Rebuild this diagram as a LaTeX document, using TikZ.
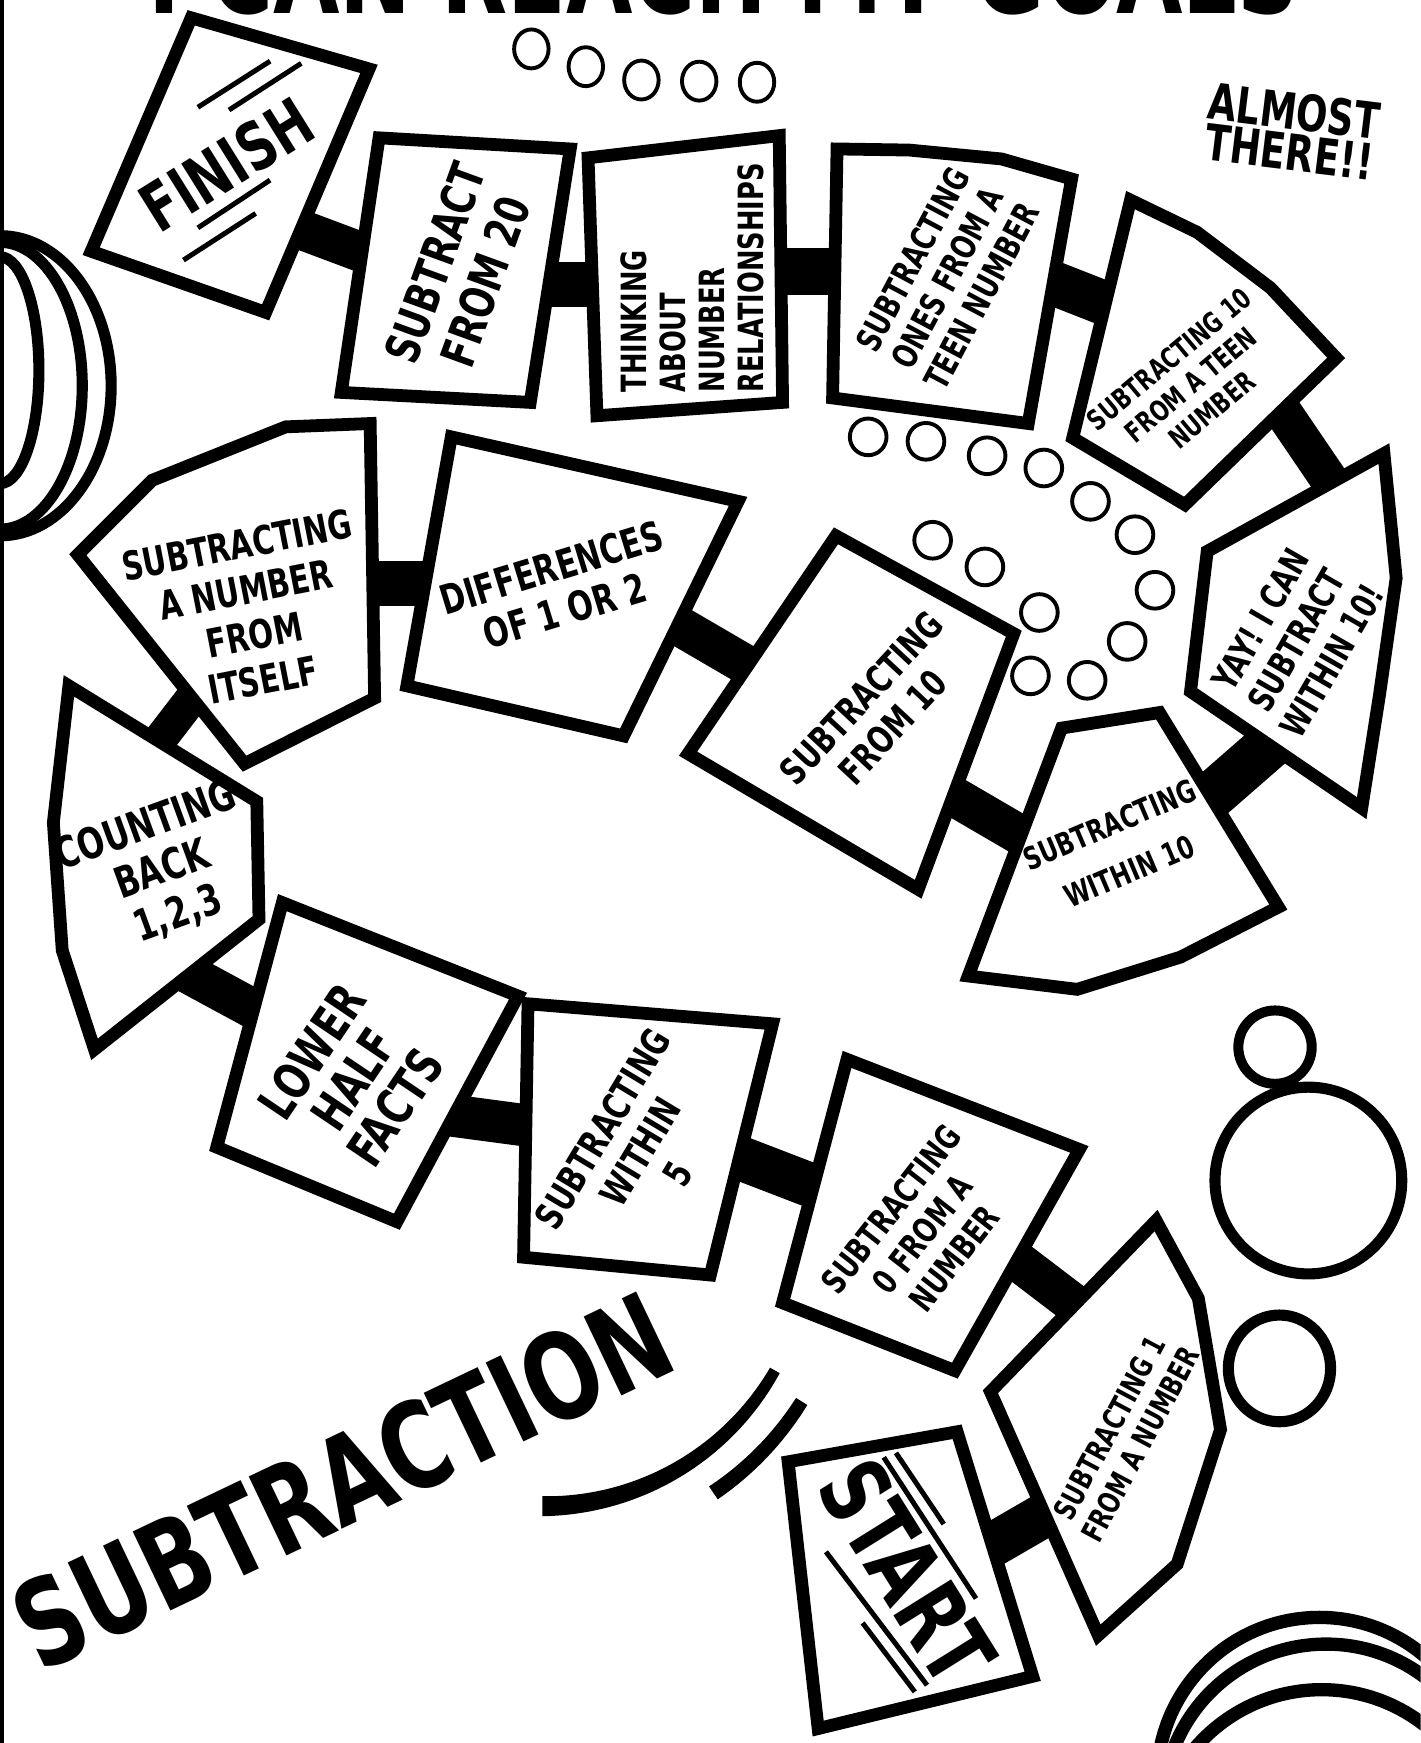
\documentclass[tikz,border=0pt]{standalone}
\usepackage{graphicx}
\usepackage{fontspec}
\newfontfamily\gf{DejaVu Sans}[FakeStretch=0.74]
\newcommand\tf[2]{\gf\bfseries\fontsize{#1pt}{#2pt}\selectfont}
\begin{document}
\begin{tikzpicture}[x=0.02cm,y=-0.02cm,
  box/.style={draw=black,fill=white,line width=0.23cm,line join=miter,miter limit=6},
  bar/.style={line width=#1,draw=black,line cap=butt},
  ring/.style={draw=black,line width=0.07cm},
  thick ring/.style={draw=black,line width=#1},
  deco/.style={draw=black,line width=0.09cm},
  lbl/.style={inner sep=0pt,align=center,text=black}]
\useasboundingbox (0,0) rectangle (1278,1568);
\clip (0,0) rectangle (1278,1568);
\fill[white] (0,0) rectangle (1278,1568);

% title (cut off at top)
\node[anchor=base,inner sep=0pt] (title) at (651,12) {\resizebox{20.7cm}{!}{\gf\bfseries I CAN REACH MY GOALS}};

% left border
\draw[line width=0.07cm] (2,0) -- (2,1568);

% left arcs
\draw[thick ring=0.2cm] (0,347) ellipse [x radius=100, y radius=135];
\draw[thick ring=0.2cm] (0,347) ellipse [x radius=74, y radius=129];
\draw[thick ring=0.2cm] (0,333) ellipse [x radius=35, y radius=102];

% bottom-right arcs
\draw[thick ring=0.24cm] (1187,1601) circle [radius=146];
\draw[thick ring=0.24cm] (1193,1626) circle [radius=147];
\draw[thick ring=0.24cm] (1189,1670) circle [radius=150];

% big circles right
\draw[thick ring=0.18cm] (1147,942) circle [radius=33];
\draw[thick ring=0.2cm] (1177,1062) circle [radius=84];
\draw[thick ring=0.2cm] (1151,1231) ellipse [x radius=46, y radius=48];

% small circles top
\foreach \p in {(478,44),(527,60),(577,72),(629,73),(681,74)}
  \draw[ring] \p ellipse [x radius=15.5, y radius=17.5];
% small circles middle
\foreach \p in {(781,393),(833,397),(888,410),(939,421),(981,451),(1021,481),(1039,531),(1014,577),(978,612),(927,608),(935,551),(886,510),(839,486)}
  \draw[ring] \p circle [radius=16.5];

% connector end points
\coordinate (finishA) at (240,195);   \coordinate (sub20A) at (360,240);
\coordinate (sub20B) at (450,256);    \coordinate (thinkA) at (560,256);
\coordinate (thinkB) at (680,244);    \coordinate (onesA) at (780,244);
\coordinate (onesB) at (910,240);     \coordinate (teenA) at (1030,287);
\coordinate (teenB) at (1130,335);    \coordinate (yayA) at (1215,460);
\coordinate (yayB) at (1170,646);     \coordinate (winTenA) at (1060,742);
\coordinate (winTenB) at (950,770);   \coordinate (fromTenA) at (830,700);
\coordinate (fromTenB) at (700,615);  \coordinate (diffA) at (580,545);
\coordinate (diffB) at (420,525);     \coordinate (selfA) at (310,525);
\coordinate (selfB) at (185,612);     \coordinate (countA) at (125,690);
\coordinate (countB) at (140,860);    \coordinate (lowerA) at (260,925);
\coordinate (lowerB) at (380,1000);   \coordinate (winFiveA) at (500,1016);
\coordinate (winFiveB) at (630,1028); \coordinate (zeroA) at (760,1078);
\coordinate (zeroB) at (890,1115);    \coordinate (oneA) at (995,1195);
\coordinate (oneB) at (965,1348);     \coordinate (startA) at (870,1403);

% connectors
\draw[bar=0.72cm] (finishA) -- (sub20A);
\draw[bar=0.80cm] (sub20B) -- (thinkA);
\draw[bar=0.84cm] (thinkB) -- (onesA);
\draw[bar=0.80cm] (onesB) -- (teenA);
\draw[bar=0.68cm] (teenB) -- (yayA);
\draw[bar=0.86cm] (yayB) -- (winTenA);
\draw[bar=0.72cm] (winTenB) -- (fromTenA);
\draw[bar=0.72cm] (fromTenB) -- (diffA);
\draw[bar=0.80cm] (diffB) -- (selfA);
\draw[bar=0.60cm] (selfB) -- (countA);
\draw[bar=0.72cm] (countB) -- (lowerA);
\draw[bar=0.76cm] (lowerB) -- (winFiveA);
\draw[bar=0.80cm] (winFiveB) -- (zeroA);
\draw[bar=0.72cm] (zeroB) -- (oneA);
\draw[bar=0.80cm] (oneB) -- (startA);

% spaces
\draw[box] (172,16) -- (332,62) -- (239,281) -- (82,226) -- cycle;
\draw[box] (341,124) -- (513,134) -- (477,362) -- (307,353) -- cycle;
\draw[box] (529,142) -- (701,122) -- (704,362) -- (537,374) -- cycle;
\draw[box] (753,134) -- (818,135) -- (901,143) -- (964,161) -- (925,381) -- (749,358) -- cycle;
\draw[box] (1017,180) -- (1077,209) -- (1143,259) -- (1202,322) -- (1066,454) -- (965,394) -- cycle;
\draw[box] (1245,408) -- (1256,520) -- (1241,625) -- (1225,727) -- (1071,622) -- (1086,496) -- cycle;
\draw[box] (955,655) -- (1043,641) -- (1150,816) -- (1062,861) -- (969,890) -- (871,878) -- cycle;
\draw[box] (752,482) -- (912,570) -- (826,800) -- (619,678) -- cycle;
\draw[box] (406,393) -- (664,451) -- (561,662) -- (366,617) -- cycle;
\draw[box] (257,384) -- (333,381) -- (337,628) -- (220,687) -- (70,499) -- (137,432) -- cycle;
\draw[box] (62,617) -- (231,721) -- (233,827) -- (85,944) -- (56,855) -- (48,740) -- cycle;
\draw[box] (254,812) -- (466,896) -- (357,1099) -- (195,1032) -- cycle;
\draw[box] (475,903) -- (695,921) -- (639,1147) -- (471,1131) -- cycle;
\draw[box] (762,953) -- (971,1034) -- (859,1233) -- (704,1172) -- cycle;
\draw[box] (1040,1098) -- (1078,1168) -- (1098,1286) -- (1059,1407) -- (988,1471) -- (891,1252) -- cycle;
\draw[box] (709,1315) -- (861,1288) -- (929,1508) -- (736,1555) -- cycle;

% finish / start decoration lines
\draw[deco] (178,96.5) -- (243,55);
\draw[deco] (206,99) -- (271,57);
\draw[deco] (178,205) -- (243,162);
\draw[deco] (165,234) -- (230,192);
\draw[deco] (806,1307) -- (849,1371);
\draw[deco] (795,1311) -- (878,1438);
\draw[deco] (743,1396) -- (834,1516);
\draw[deco] (776,1460) -- (823,1522);

% labels
\node[lbl,rotate=32,font={\tf{34}{36}}] (tfinish) at (204,148) {FINISH};
\node[lbl,rotate=70,font={\tf{24.2}{27.3}}] (tsub20) at (414,245) {SUBTRACT\\FROM 20};
\node[lbl,rotate=90,align=left,font={\tf{17.8}{19.9}}] (tthink) at (623,250) {THINKING\\ABOUT\\NUMBER\\RELATIONSHIPS};
\node[lbl,rotate=62,font={\tf{17.5}{20}}] (tones) at (852,250) {SUBTRACTING\\ONES FROM A\\TEEN NUMBER};
\node[lbl,rotate=40,font={\tf{14.5}{17}}] (tteen) at (1071,346) {SUBTRACTING 10\\FROM A TEEN\\NUMBER};
\node[lbl,rotate=60,font={\tf{18.3}{21}}] (tyay) at (1166,576) {YAY! I CAN\\SUBTRACT\\WITHIN 10!};
\node[lbl,rotate=23,font={\tf{16}{26}}] (twinten) at (1007,763) {SUBTRACTING\\WITHIN 10};
\node[lbl,rotate=47,font={\tf{19}{22}}] (tfromten) at (789,641) {SUBTRACTING\\FROM 10};
\node[lbl,rotate=17,font={\tf{20.8}{23}}] (tdiff) at (502,530) {DIFFERENCES\\OF 1 OR 2};
\node[lbl,rotate=11,font={\tf{20.3}{23.5}}] (tself) at (225,551) {SUBTRACTING\\A NUMBER\\FROM\\ITSELF};
\node[lbl,rotate=20,font={\tf{22}{24}}] (tcount) at (146,783) {COUNTING\\BACK\\1,2,3};
\node[lbl,rotate=56,font={\tf{25.6}{25.6}}] (tlower) at (318,971) {LOWER\\HALF\\FACTS};
\node[lbl,rotate=59,font={\tf{19.5}{22.5}}] (twinfive) at (576,1036) {SUBTRACTING\\WITHIN\\5};
\node[lbl,rotate=52,font={\tf{17.5}{20.5}}] (tzero) at (830,1110) {SUBTRACTING\\0 FROM A\\NUMBER};
\node[lbl,rotate=62,font={\tf{15.5}{18}}] (tone) at (1012,1292) {SUBTRACTING 1\\FROM A NUMBER};
\node[lbl,rotate=-58,font={\tf{47.8}{50}}] (tstart) at (816,1414) {START};
\node[lbl,rotate=-7,font={\tf{25.6}{21}}] (talmost) at (1162,118) {ALMOST\\THERE!!};
\node[lbl,rotate=25.5,font={\tf{61.5}{64}}] (tsubtraction) at (308,1332) {SUBTRACTION};

% swoosh arcs
\fill[black] plot[domain=90:29.4,samples=40] ({488+(240+(10+8*(\x-29.4)/60.6)/2)*cos(\x)},{1115+(240+(10+8*(\x-29.4)/60.6)/2)*sin(\x)})
  -- plot[domain=29.4:90,samples=40] ({488+(240-(10+8*(\x-29.4)/60.6)/2)*cos(\x)},{1115+(240-(10+8*(\x-29.4)/60.6)/2)*sin(\x)}) -- cycle;
\fill[black] plot[domain=56:32,samples=30] ({488+(275+(12+2*(\x-32)/24)/2)*cos(\x)},{1115+(275+(12+2*(\x-32)/24)/2)*sin(\x)})
  -- plot[domain=32:56,samples=30] ({488+(275-(12+2*(\x-32)/24)/2)*cos(\x)},{1115+(275-(12+2*(\x-32)/24)/2)*sin(\x)}) -- cycle;
\end{tikzpicture}
\end{document}
